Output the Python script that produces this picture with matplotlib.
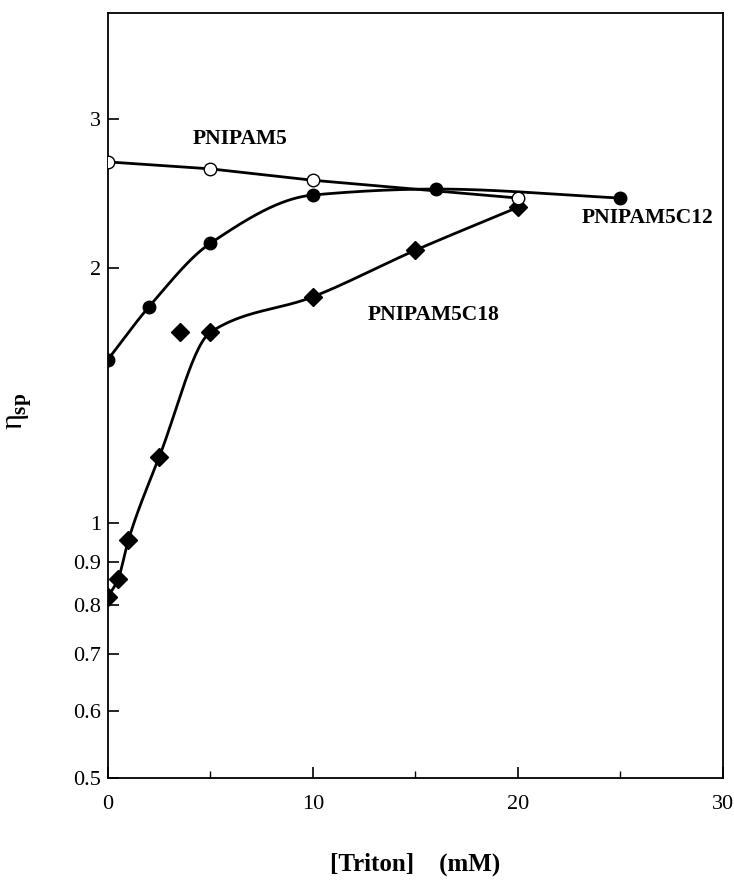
import numpy as np
import matplotlib
matplotlib.use("Agg")
import matplotlib.pyplot as plt
from matplotlib.ticker import FixedLocator, NullLocator, FixedFormatter

# ---- data ----
x_p5 = [0, 5, 10, 20]
y_p5 = [2.67, 2.62, 2.54, 2.42]

x_c12 = [0, 2, 5, 10, 16, 25]
y_c12 = [1.56, 1.80, 2.14, 2.44, 2.48, 2.42]

x_c18 = [0, 0.5, 1, 2.5, 5, 10, 15, 20]
y_c18 = [0.818, 0.859, 0.955, 1.196, 1.68, 1.85, 2.10, 2.36]

x_c18_out = [3.5]
y_c18_out = [1.68]

ytick_vals = [0.5, 0.6, 0.7, 0.8, 0.9, 1, 2, 3]
ytick_labels = ["0.5", "0.6", "0.7", "0.8", "0.9", "1", "2", "3"]
xtick_vals = [0, 10, 20, 30]
xminor_vals = [5, 15, 25]


def pchip(x, y, xs):
    x = np.asarray(x, float); y = np.asarray(y, float)
    h = np.diff(x); d = np.diff(y) / h
    n = len(x); m = np.zeros(n)
    for k in range(1, n - 1):
        if d[k - 1] * d[k] > 0:
            w1 = 2 * h[k] + h[k - 1]; w2 = h[k] + 2 * h[k - 1]
            m[k] = (w1 + w2) / (w1 / d[k - 1] + w2 / d[k])
    m[0] = d[0]; m[-1] = d[-1]
    idx = np.clip(np.searchsorted(x, xs) - 1, 0, n - 2)
    t = (xs - x[idx]) / h[idx]
    h00 = 2 * t**3 - 3 * t**2 + 1; h10 = t**3 - 2 * t**2 + t
    h01 = -2 * t**3 + 3 * t**2; h11 = t**3 - t**2
    return h00 * y[idx] + h10 * h[idx] * m[idx] + h01 * y[idx + 1] + h11 * h[idx] * m[idx + 1]


def smooth(x, y):
    xs = np.linspace(min(x), max(x), 400)
    return xs, 10 ** pchip(x, np.log10(y), xs)


plt.rcParams['font.family'] = ['Liberation Serif', 'DejaVu Serif']
plt.rcParams['mathtext.fontset'] = 'custom'
plt.rcParams['mathtext.rm'] = 'Liberation Serif'
plt.rcParams['mathtext.it'] = 'Liberation Serif'
plt.rcParams['mathtext.bf'] = 'Liberation Serif:bold'
fig = plt.figure(figsize=(7.34, 8.84), dpi=100)
ax = fig.add_axes([0.147, 0.120, 0.838, 0.865])
ax.set_yscale('log')
ax.set_xlim(0, 30)
ax.set_ylim(0.5, 4.0)

lw = 2.0
# curves
ax.plot(x_p5, y_p5, '-', color='black', lw=lw, zorder=2)
xs, ys = smooth(x_c12, y_c12)
ax.plot(xs, ys, '-', color='black', lw=lw, zorder=2)
xs, ys = smooth(x_c18, y_c18)
ax.plot(xs, ys, '-', color='black', lw=lw, zorder=2)

# markers
ax.plot(x_c12, y_c12, 'o', ms=9, mfc='black', mec='black', ls='none', zorder=3)
ax.plot(x_c18, y_c18, 'D', ms=9, mfc='black', mec='black', ls='none', zorder=3)
ax.plot(x_c18_out, y_c18_out, 'D', ms=9, mfc='black', mec='black', ls='none', zorder=3)
ax.plot(x_p5, y_p5, 'o', ms=9, mfc='white', mec='black', mew=1.0, ls='none', zorder=4)

# labels
ax.text(6.45, 2.84, 'PNIPAM5', fontsize=15.5, fontweight='bold', ha='center', va='center')
ax.text(26.3, 2.29, 'PNIPAM5C12', fontsize=15.5, fontweight='bold', ha='center', va='center',
        clip_on=False)
ax.text(15.9, 1.76, 'PNIPAM5C18', fontsize=15.5, fontweight='bold', ha='center', va='center')

# ticks
ax.yaxis.set_major_locator(FixedLocator(ytick_vals))
ax.yaxis.set_major_formatter(FixedFormatter(ytick_labels))
ax.yaxis.set_minor_locator(NullLocator())
ax.xaxis.set_major_locator(FixedLocator(xtick_vals))
ax.xaxis.set_minor_locator(FixedLocator(xminor_vals))
ax.tick_params(axis='both', which='major', direction='in', length=8, width=1.2,
               labelsize=16)
ax.tick_params(axis='x', which='minor', direction='in', length=5, width=1.0)
ax.tick_params(axis='y', pad=5)
ax.tick_params(axis='x', pad=12)
for s in ax.spines.values():
    s.set_linewidth(1.3)

ax.set_xlabel('[Triton]    (mM)', fontsize=18, fontweight='bold', labelpad=28)
ax.set_ylabel(r'$\eta_{\mathbf{sp}}$', fontsize=22)
ax.yaxis.set_label_coords(-0.12, 0.48)

fig.savefig('out.png', dpi=100)
